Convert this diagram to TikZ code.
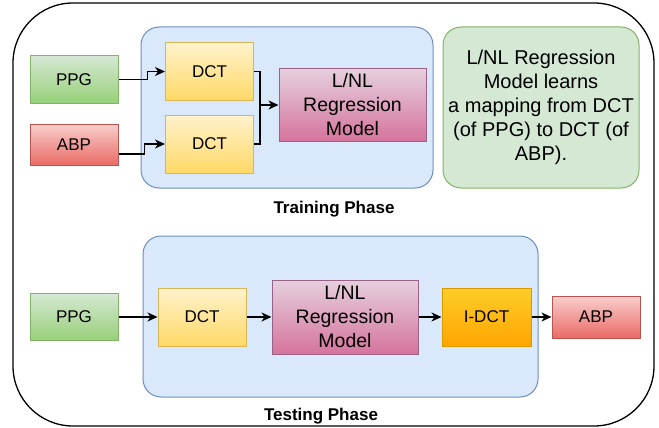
\documentclass[tikz,border=0pt]{standalone}
\usepackage{fontspec}
\setmainfont{Liberation Sans}
\usetikzlibrary{arrows.meta,calc}
\definecolor{gTop}{HTML}{D5E8D4}\definecolor{gBot}{HTML}{97D077}\definecolor{gLine}{HTML}{82B366}
\definecolor{rTop}{HTML}{F8CECC}\definecolor{rBot}{HTML}{EA6B66}\definecolor{rLine}{HTML}{B85450}
\definecolor{yTop}{HTML}{FFF2CC}\definecolor{yBot}{HTML}{FFD966}\definecolor{yLine}{HTML}{D6B656}
\definecolor{pTop}{HTML}{E6D0DE}\definecolor{pBot}{HTML}{D5739D}\definecolor{pLine}{HTML}{996185}
\definecolor{oTop}{HTML}{FFCD28}\definecolor{oBot}{HTML}{FFA500}\definecolor{oLine}{HTML}{D79B00}
\definecolor{bFill}{HTML}{DAE8FC}\definecolor{bLine}{HTML}{6C8EBF}
\begin{document}
\begin{tikzpicture}[x=1pt,y=-1pt,
  blk/.style={draw, line width=1pt, inner sep=0pt, align=center, font=\fontsize{17}{24}\selectfont},
  greenbox/.style={blk, draw=gLine, top color=gTop, bottom color=gBot},
  redbox/.style={blk, draw=rLine, top color=rTop, bottom color=rBot},
  dctbox/.style={blk, draw=yLine, top color=yTop, bottom color=yBot, minimum width=88pt, minimum height=58pt},
  regbox/.style={blk, draw=pLine, top color=pTop, bottom color=pBot, font=\fontsize{19.5}{24}\selectfont},
  idctbox/.style={blk, draw=oLine, top color=oTop, bottom color=oBot},
  container/.style={draw=bLine, fill=bFill, line width=1pt, rounded corners=18pt, inner sep=0pt},
  note/.style={draw=gLine, fill=gTop, line width=1pt, rounded corners=18pt, inner sep=0pt, align=center, font=\fontsize{20}{24}\selectfont},
  phase/.style={font=\bfseries\fontsize{17}{20}\selectfont, inner sep=0pt},
  arr/.style={-{Stealth[length=10pt,width=9pt,inset=3pt]}, line width=1.3pt},
  link/.style={line width=1.3pt}
]
\useasboundingbox (0,0) rectangle (659,428);
% outer frame
\node[draw, line width=1.3pt, rounded corners=60pt, minimum width=641pt, minimum height=423pt, inner sep=0pt] (frame) at (333.5,214.5) {};

% training phase
\node[container, minimum width=292pt, minimum height=161pt] (train) at (287,107.5) {};
\node[note, minimum width=196pt, minimum height=161pt] (note) at (541,107.5)
  {L/NL Regression\\Model learns\\a mapping from DCT\\(of PPG) to DCT (of\\ABP).};
\node[greenbox, minimum width=88pt, minimum height=47pt] (ppgA) at (74,79.5) {PPG};
\node[redbox, minimum width=88pt, minimum height=41pt] (abpA) at (74,144.5) {ABP};
\node[dctbox] (dctA) at (209.5,71.5) {DCT};
\node[dctbox] (dctB) at (209.5,144) {DCT};
\node[regbox, minimum width=147pt, minimum height=73pt] (regA) at (352.5,105) {L/NL\\Regression\\Model};
\node[phase] (trainlbl) at (334,209) {Training Phase};

\draw[arr] (ppgA.east) -- ++(29,0) |- (dctA.west);
\draw[arr] ([yshift=-9.5pt]abpA.east) -- ++(26,0) |- (dctB.west);
\coordinate (mj) at (260,105);
\draw[link] (dctA.east) -| (mj) |- (dctB.east);
\draw[arr] (mj) -- (regA.west);

% testing phase
\node[container, minimum width=395pt, minimum height=161pt] (test) at (340.5,316.5) {};
\node[greenbox, minimum width=88pt, minimum height=47pt] (ppgB) at (74,317) {PPG};
\node[dctbox] (dctC) at (202,317) {DCT};
\node[regbox, minimum width=146pt, minimum height=74pt] (regB) at (345,317) {L/NL\\Regression\\Model};
\node[idctbox, minimum width=89pt, minimum height=58pt] (idct) at (486.5,317) {I-DCT};
\node[redbox, minimum width=88pt, minimum height=42pt] (abpB) at (596,317) {ABP};
\node[phase] (testlbl) at (321,416) {Testing Phase};

\draw[arr] (ppgB.east) -- (dctC.west);
\draw[arr] (dctC.east) -- (regB.west);
\draw[arr] (regB.east) -- (idct.west);
\draw[arr] (idct.east) -- (abpB.west);
\end{tikzpicture}
\end{document}
